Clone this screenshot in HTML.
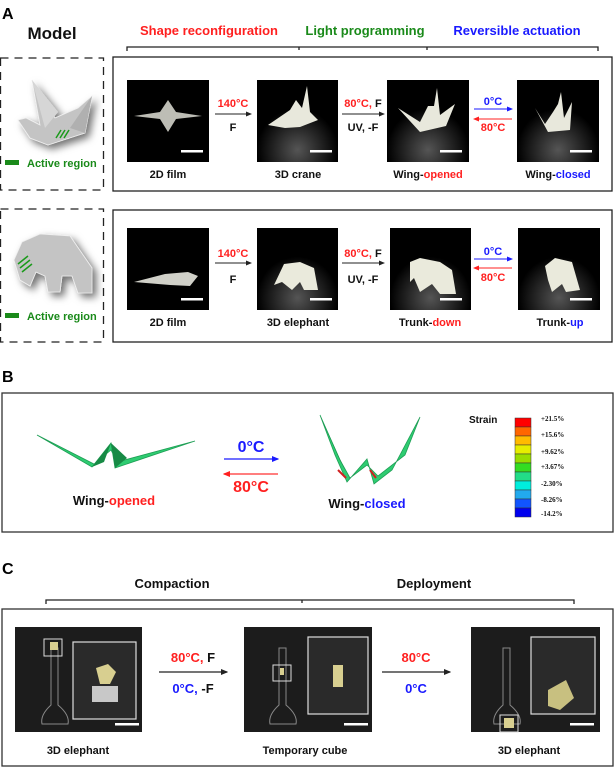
<!DOCTYPE html>
<html><head><meta charset="utf-8"><style>
html,body{margin:0;padding:0;background:#fff;}
svg{display:block;font-family:"Liberation Sans",Arial,sans-serif;font-weight:bold;}
</style></head><body>
<svg width="615" height="768" viewBox="0 0 615 768" xmlns="http://www.w3.org/2000/svg">
<defs>
<marker id="ak" markerWidth="6" markerHeight="6" refX="5" refY="3" orient="auto"><path d="M0,0.5 L6,3 L0,5.5z" fill="#222"/></marker>
<marker id="ab" markerWidth="6" markerHeight="6" refX="5" refY="3" orient="auto"><path d="M0,0.5 L6,3 L0,5.5z" fill="#1a1aff"/></marker>
<marker id="ar" markerWidth="6" markerHeight="6" refX="5" refY="3" orient="auto"><path d="M0,0.5 L6,3 L0,5.5z" fill="#ff2020"/></marker>
<filter id="sh" x="-30%" y="-30%" width="160%" height="160%"><feDropShadow dx="4" dy="4" stdDeviation="4" flood-color="#000" flood-opacity="0.55"/></filter>
<radialGradient id="gl" cx="0.5" cy="0.85" r="0.5"><stop offset="0" stop-color="#555"/><stop offset="1" stop-color="#000"/></radialGradient>
</defs>

<!-- Panel A -->
<text x="2" y="19" font-size="16">A</text>
<text x="52" y="39" font-size="17" text-anchor="middle" fill="#111">Model</text>
<text x="209" y="35" font-size="13" text-anchor="middle" fill="#ff2020">Shape reconfiguration</text>
<text x="365" y="35" font-size="13" text-anchor="middle" fill="#1a8a1a">Light programming</text>
<text x="517" y="35" font-size="13" text-anchor="middle" fill="#1a1aff">Reversible actuation</text>
<path d="M127,51 V47 H598 V51 M299,47 v3 M427,47 v3" fill="none" stroke="#222" stroke-width="1.3"/>

<rect x="0.5" y="58" width="103" height="132" fill="none" stroke="#222" stroke-width="1.3" stroke-dasharray="8,6"/>
<rect x="0.5" y="209" width="103" height="133" fill="none" stroke="#222" stroke-width="1.3" stroke-dasharray="8,6"/>
<rect x="113" y="57" width="499" height="134" fill="none" stroke="#222" stroke-width="1.3"/>
<rect x="113" y="210" width="499" height="132" fill="none" stroke="#222" stroke-width="1.3"/>

<!-- crane model -->
<g filter="url(#sh)">
<polygon points="32,80 55,118 78,108 92,96 85,133 48,145 30,138 18,120 26,118 40,125" fill="#c4c4c4" stroke="#eee" stroke-width="0.8"/>
<polygon points="32,80 58,112 45,128" fill="#d6d6d6"/>
<polygon points="92,96 85,133 70,128" fill="#b0b0b0"/>
</g>
<path d="M56,138 l5,-8 M60,138 l5,-8 M64,138 l5,-8" stroke="#1a9a1a" stroke-width="1.5"/>
<rect x="5" y="160" width="14" height="5" fill="#1a8a1a"/>
<text x="27" y="167" font-size="11" fill="#1a8a1a">Active region</text>
<!-- elephant model -->
<g filter="url(#sh)">
<polygon points="22,242 40,234 70,236 92,268 92,293 78,293 72,276 62,276 60,292 48,292 45,276 36,272 30,286 20,280 14,260" fill="#c4c4c4" stroke="#eee" stroke-width="0.8"/>
</g>
<path d="M18,264 l10,-8 M20,268 l10,-8 M22,272 l10,-8" stroke="#1a9a1a" stroke-width="1.5"/>
<rect x="5" y="313" width="14" height="5" fill="#1a8a1a"/>
<text x="27" y="320" font-size="11" fill="#1a8a1a">Active region</text>

<!-- row 1 photos -->
<g>
<rect x="127" y="80" width="82" height="82" fill="#000"/>
<polygon points="134,116 160,112 168,100 176,112 202,116 176,119 168,132 160,119" fill="#bdbdb5"/>
<rect x="181" y="150" width="22" height="2.5" fill="#fff"/>
<rect x="257" y="80" width="81" height="82" fill="url(#gl)"/>
<polygon points="268,125 290,110 296,100 302,108 307,86 310,112 318,120 300,127 285,128" fill="#e8e8dc"/>
<rect x="310" y="150" width="22" height="2.5" fill="#fff"/>
<rect x="387" y="80" width="82" height="82" fill="url(#gl)"/>
<polygon points="398,108 420,122 428,106 434,106 437,88 440,115 455,104 446,126 420,132" fill="#e8e8dc"/>
<rect x="440" y="150" width="22" height="2.5" fill="#fff"/>
<rect x="517" y="80" width="82" height="82" fill="url(#gl)"/>
<polygon points="535,108 545,124 553,112 558,104 561,92 564,118 572,102 570,130 548,132" fill="#e8e8dc"/>
<rect x="570" y="150" width="22" height="2.5" fill="#fff"/>
</g>
<g font-size="11" text-anchor="middle" fill="#111">
<text x="168" y="178">2D film</text>
<text x="298" y="178">3D crane</text>
<text x="428" y="178">Wing-<tspan fill="#ff2020">opened</tspan></text>
<text x="558" y="178">Wing-<tspan fill="#1a1aff">closed</tspan></text>
</g>
<g font-size="11" text-anchor="middle">
<line x1="215" y1="114" x2="251" y2="114" stroke="#222" marker-end="url(#ak)"/>
<text x="233" y="107" fill="#ff2020">140°C</text><text x="233" y="131" fill="#111">F</text>
<line x1="342" y1="114" x2="384" y2="114" stroke="#222" marker-end="url(#ak)"/>
<text x="363" y="107"><tspan fill="#ff2020">80°C,</tspan><tspan fill="#111"> F</tspan></text><text x="363" y="131" fill="#111">UV, -F</text>
<line x1="474" y1="109" x2="512" y2="109" stroke="#1a1aff" marker-end="url(#ab)"/>
<line x1="512" y1="119" x2="474" y2="119" stroke="#ff2020" marker-end="url(#ar)"/>
<text x="493" y="105" fill="#1a1aff">0°C</text><text x="493" y="131" fill="#ff2020">80°C</text>
</g>

<!-- row 2 photos -->
<g>
<rect x="127" y="228" width="82" height="82" fill="#000"/>
<polygon points="134,282 165,274 188,272 198,276 190,286 170,285" fill="#d0d0c8"/>
<rect x="181" y="298" width="22" height="2.5" fill="#fff"/>
<rect x="257" y="228" width="81" height="82" fill="url(#gl)"/>
<polygon points="274,285 284,264 300,262 314,268 318,290 304,290 300,282 292,290 282,282" fill="#eaeadc"/>
<rect x="310" y="298" width="22" height="2.5" fill="#fff"/>
<rect x="390" y="228" width="81" height="82" fill="url(#gl)"/>
<polygon points="410,262 420,258 440,262 452,270 456,294 440,294 432,284 420,292 414,278 410,282" fill="#eaeadc"/>
<rect x="440" y="298" width="22" height="2.5" fill="#fff"/>
<rect x="518" y="228" width="82" height="82" fill="url(#gl)"/>
<polygon points="545,266 555,258 572,262 580,290 566,292 562,284 552,292 548,280" fill="#eaeadc"/>
<rect x="570" y="298" width="22" height="2.5" fill="#fff"/>
</g>
<g font-size="11" text-anchor="middle" fill="#111">
<text x="168" y="326">2D film</text>
<text x="298" y="326">3D elephant</text>
<text x="430" y="326">Trunk-<tspan fill="#ff2020">down</tspan></text>
<text x="560" y="326">Trunk-<tspan fill="#1a1aff">up</tspan></text>
</g>
<g font-size="11" text-anchor="middle">
<line x1="215" y1="263" x2="251" y2="263" stroke="#222" marker-end="url(#ak)"/>
<text x="233" y="257" fill="#ff2020">140°C</text><text x="233" y="283" fill="#111">F</text>
<line x1="342" y1="263" x2="384" y2="263" stroke="#222" marker-end="url(#ak)"/>
<text x="363" y="257"><tspan fill="#ff2020">80°C,</tspan><tspan fill="#111"> F</tspan></text><text x="363" y="283" fill="#111">UV, -F</text>
<line x1="474" y1="259" x2="512" y2="259" stroke="#1a1aff" marker-end="url(#ab)"/>
<line x1="512" y1="268" x2="474" y2="268" stroke="#ff2020" marker-end="url(#ar)"/>
<text x="493" y="255" fill="#1a1aff">0°C</text><text x="493" y="281" fill="#ff2020">80°C</text>
</g>

<!-- Panel B -->
<text x="2" y="382" font-size="16">B</text>
<rect x="2" y="393" width="611" height="139" fill="none" stroke="#333" stroke-width="1.3"/>
<polygon points="37,435 92,467 111,443 115,468 195,441 117,462 111,450 94,464" fill="#2ecc71" stroke="#1e9e55" stroke-width="0.8"/>
<polygon points="92,467 111,443 104,462" fill="#178a45"/>
<polygon points="111,443 115,468 127,458" fill="#178a45"/>
<text x="114" y="505" font-size="13" text-anchor="middle" fill="#111">Wing-<tspan fill="#ff2020">opened</tspan></text>
<line x1="224" y1="459" x2="278" y2="459" stroke="#1a1aff" stroke-width="1.2" marker-end="url(#ab)"/>
<line x1="278" y1="474" x2="224" y2="474" stroke="#ff3030" stroke-width="1.2" marker-end="url(#ar)"/>
<text x="251" y="452" font-size="16" text-anchor="middle" fill="#1a1aff">0°C</text>
<text x="251" y="492" font-size="16" text-anchor="middle" fill="#ff2020">80°C</text>
<polygon points="320,415 335,455 347,482 367,459 374,484 392,470 420,417 405,455 378,476 367,465 350,478 340,460" fill="#2ecc71" stroke="#1e9e55" stroke-width="0.8"/>
<polygon points="320,415 345,470 340,460" fill="#178a45"/>
<path d="M338,470 L346,478 M370,470 L376,478" stroke="#d02020" stroke-width="2"/>
<text x="367" y="508" font-size="13" text-anchor="middle" fill="#111">Wing-<tspan fill="#1a1aff">closed</tspan></text>
<text x="469" y="423" font-size="10" fill="#111">Strain</text>
<g stroke="#333" stroke-width="0.5">
<rect x="515" y="418" width="16" height="9" fill="#ff0000"/>
<rect x="515" y="427" width="16" height="9" fill="#ff6600"/>
<rect x="515" y="436" width="16" height="9" fill="#ffbb00"/>
<rect x="515" y="445" width="16" height="9" fill="#e6ee00"/>
<rect x="515" y="454" width="16" height="9" fill="#99dd00"/>
<rect x="515" y="463" width="16" height="9" fill="#33dd22"/>
<rect x="515" y="472" width="16" height="9" fill="#22dd88"/>
<rect x="515" y="481" width="16" height="9" fill="#00eedd"/>
<rect x="515" y="490" width="16" height="9" fill="#22aaee"/>
<rect x="515" y="499" width="16" height="9" fill="#1155ff"/>
<rect x="515" y="508" width="16" height="9" fill="#0000ee"/>
</g>
<g font-family="Liberation Serif,serif" font-size="7" fill="#111">
<text x="541" y="421">+21.5%</text><text x="541" y="437">+15.6%</text><text x="541" y="454">+9.62%</text>
<text x="541" y="469">+3.67%</text><text x="541" y="486">-2.30%</text><text x="541" y="502">-8.26%</text><text x="541" y="516">-14.2%</text>
</g>

<!-- Panel C -->
<text x="2" y="574" font-size="16">C</text>
<text x="172" y="588" font-size="13" text-anchor="middle" fill="#111">Compaction</text>
<text x="434" y="588" font-size="13" text-anchor="middle" fill="#111">Deployment</text>
<path d="M46,604 V600 H574 V604 M302,600 v3" fill="none" stroke="#222" stroke-width="1.3"/>
<rect x="2" y="609" width="611" height="157" fill="none" stroke="#333" stroke-width="1.3"/>
<g>
<rect x="15" y="627" width="127" height="105" fill="#1c1c1c"/>
<path d="M51,648 V705 Q40,715 42,724 H68 Q70,715 58,705 V648z" fill="none" stroke="#888" stroke-width="1"/>
<rect x="44" y="639" width="18" height="17" fill="none" stroke="#ddd"/>
<rect x="50" y="642" width="8" height="8" fill="#d8cf90"/>
<rect x="73" y="642" width="63" height="77" fill="#2a2a2a" stroke="#ddd" stroke-width="1.2"/>
<polygon points="96,668 108,664 116,672 110,684 100,684" fill="#d8cf90"/>
<rect x="92" y="686" width="26" height="16" fill="#c8c8c8"/>
<rect x="115" y="723" width="24" height="2.5" fill="#fff"/>

<rect x="244" y="627" width="128" height="105" fill="#1c1c1c"/>
<path d="M279,648 V705 Q268,715 270,724 H296 Q298,715 286,705 V648z" fill="none" stroke="#888" stroke-width="1"/>
<rect x="273" y="665" width="18" height="16" fill="none" stroke="#ddd"/>
<rect x="280" y="668" width="4" height="7" fill="#d8cf90"/>
<rect x="308" y="637" width="60" height="77" fill="#2a2a2a" stroke="#ddd" stroke-width="1.2"/>
<rect x="333" y="665" width="10" height="22" fill="#d8cf90"/>
<rect x="344" y="723" width="24" height="2.5" fill="#fff"/>

<rect x="471" y="627" width="129" height="105" fill="#1c1c1c"/>
<path d="M503,648 V705 Q492,715 494,724 H520 Q522,715 510,705 V648z" fill="none" stroke="#888" stroke-width="1"/>
<rect x="500" y="715" width="18" height="17" fill="none" stroke="#ddd"/>
<rect x="504" y="718" width="10" height="10" fill="#d8cf90"/>
<rect x="531" y="637" width="64" height="77" fill="#2a2a2a" stroke="#ddd" stroke-width="1.2"/>
<polygon points="548,690 566,680 574,698 560,710 548,706" fill="#c8c080"/>
<rect x="570" y="723" width="24" height="2.5" fill="#fff"/>
</g>
<g font-size="11" text-anchor="middle" fill="#111">
<text x="78" y="754">3D elephant</text>
<text x="305" y="754">Temporary cube</text>
<text x="529" y="754">3D elephant</text>
</g>
<line x1="159" y1="672" x2="227" y2="672" stroke="#222" stroke-width="1.2" marker-end="url(#ak)"/>
<text x="193" y="662" font-size="13" text-anchor="middle"><tspan fill="#ff2020">80°C,</tspan><tspan fill="#111">  F</tspan></text>
<text x="193" y="693" font-size="13" text-anchor="middle"><tspan fill="#1a1aff">0°C,</tspan><tspan fill="#111">  -F</tspan></text>
<line x1="382" y1="672" x2="450" y2="672" stroke="#222" stroke-width="1.2" marker-end="url(#ak)"/>
<text x="416" y="662" font-size="13" text-anchor="middle" fill="#ff2020">80°C</text>
<text x="416" y="693" font-size="13" text-anchor="middle" fill="#1a1aff">0°C</text>
</svg>
</body></html>
